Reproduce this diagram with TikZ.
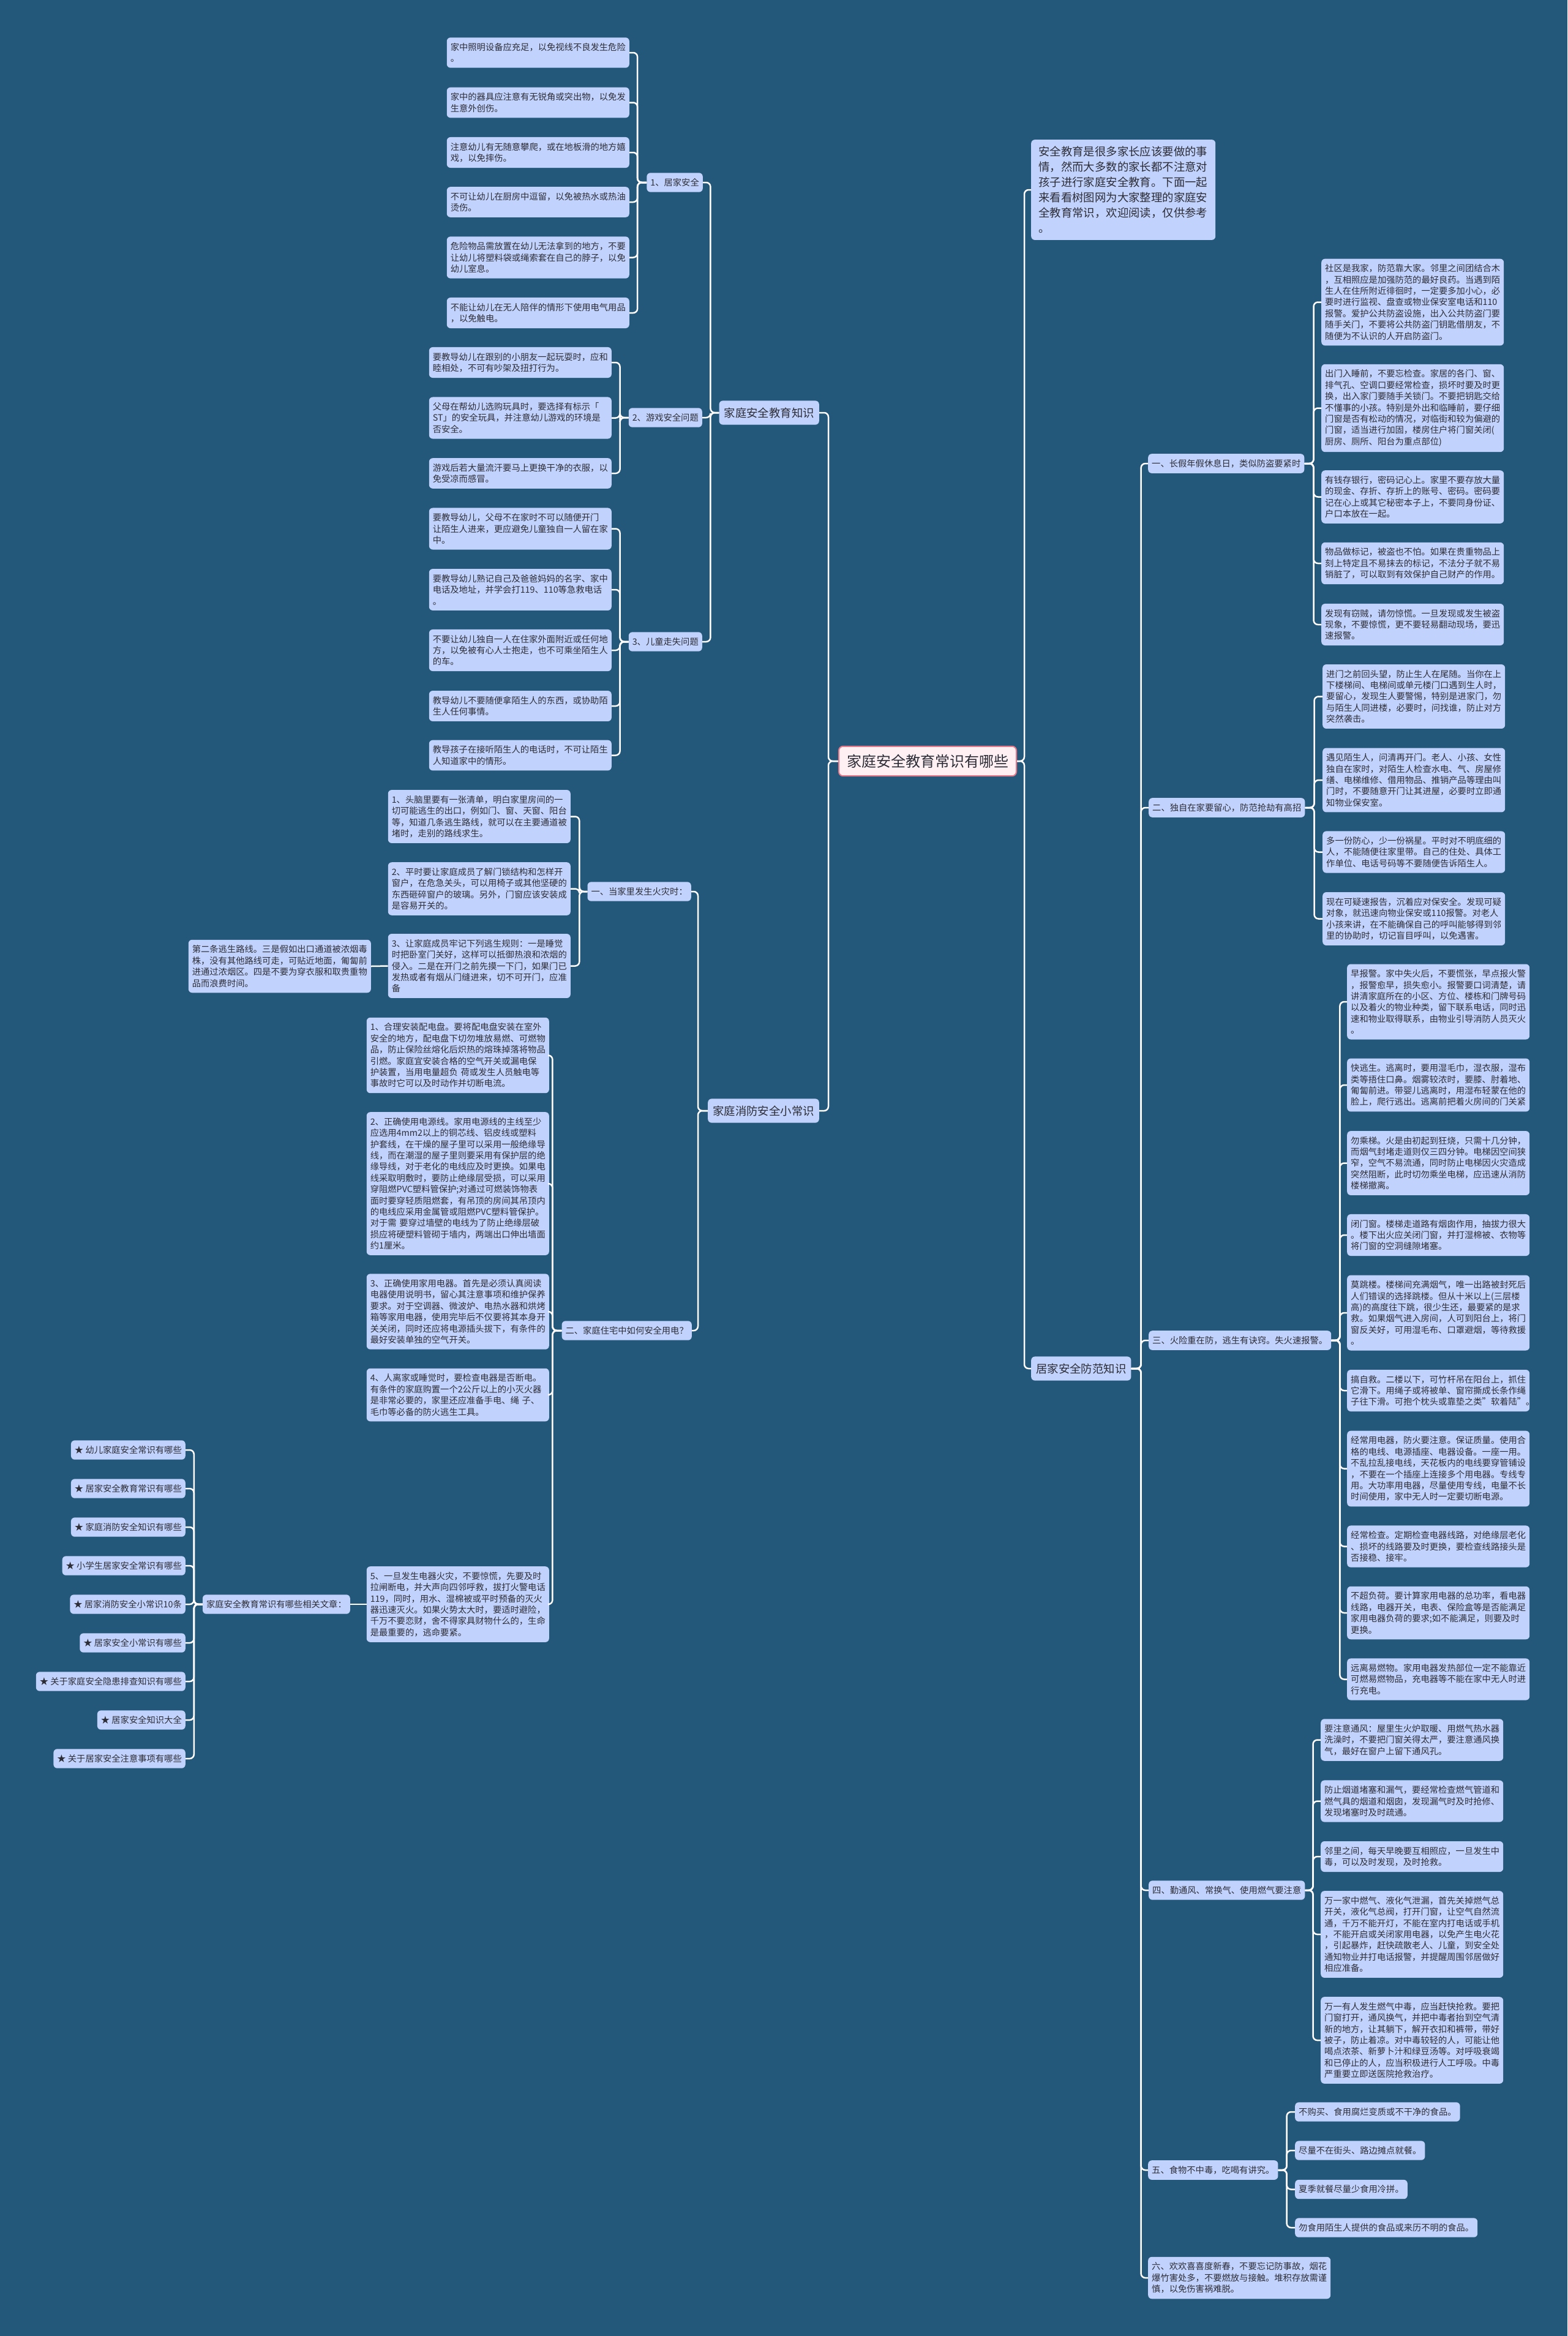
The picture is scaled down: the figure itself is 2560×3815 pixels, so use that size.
\documentclass[tikz,border=0pt]{standalone}
\usepackage{fontspec}
\setmainfont{Noto Sans CJK SC}
\definecolor{bg}{RGB}{35,88,122}
\definecolor{boxc}{RGB}{193,211,253}
\definecolor{txt}{RGB}{45,45,55}
\definecolor{rootfill}{RGB}{255,241,243}
\definecolor{rootline}{RGB}{232,120,135}
\newcommand\leaff{\fontsize{14.3pt}{18.4pt}\selectfont}
\newcommand\bigf{\fontsize{18.4pt}{25pt}\selectfont}
\newcommand\rootf{\fontsize{24pt}{30pt}\selectfont}
\tikzset{
 base/.style={rounded corners=6pt, fill=boxc, text=txt, align=left, inner xsep=6pt, inner ysep=9pt, font=\leaff},
 leaf/.style={base, text width=286pt},
 lbl/.style={base},
 lone/.style={base, font=\bigf, inner xsep=8pt, inner ysep=11pt},
 conn/.style={draw=white, line width=2.5pt, rounded corners=7pt},
}
\newcommand\rlink[3][13]{\draw[conn] (#2.east) -- ++(#1,0) |- (#3.west);}
\newcommand\llink[3][13]{\draw[conn] (#2.west) -- ++(-#1,0) |- (#3.east);}
\begin{document}
\begin{tikzpicture}[x=1pt,y=-1pt]
\fill[bg] (0,0) rectangle (2560,3815);
\useasboundingbox (0,0) rectangle (2560,3815);

% root
\node[rounded corners=7pt, fill=rootfill, draw=rootline, line width=2pt, text=txt, font=\rootf, inner xsep=13pt, inner ysep=13pt] (c) at (1515,1243) {家庭安全教育常识有哪些};

% ===== left branch 1 =====
\node[lone, anchor=east] (La) at (1338,674) {家庭安全教育知识};
\node[lbl, anchor=east] (A1) at (1148,298) {1、居家安全};
\node[lbl, anchor=east] (A2) at (1147,682) {2、游戏安全问题};
\node[lbl, anchor=east] (A3) at (1147,1048) {3、儿童走失问题};

\node[leaf, anchor=east] (a1) at (1028,86) {家中照明设备应充足，以免视线不良发生危险\\。};
\node[leaf, anchor=east] (a2) at (1028,167.5) {家中的器具应注意有无锐角或突出物，以免发\\生意外创伤。};
\node[leaf, anchor=east] (a3) at (1028,249) {注意幼儿有无随意攀爬，或在地板滑的地方嬉\\戏，以免摔伤。};
\node[leaf, anchor=east] (a4) at (1028,330) {不可让幼儿在厨房中逗留，以免被热水或热油\\烫伤。};
\node[leaf, anchor=east] (a5) at (1028,420.5) {危险物品需放置在幼儿无法拿到的地方，不要\\让幼儿将塑料袋或绳索套在自己的脖子，以免\\幼儿室息。};
\node[leaf, anchor=east] (a6) at (1028,511) {不能让幼儿在无人陪伴的情形下使用电气用品\\，以免触电。};

\node[leaf, anchor=east] (b1) at (999,592) {要教导幼儿在跟别的小朋友一起玩耍时，应和\\睦相处，不可有吵架及扭打行为。};
\node[leaf, anchor=east] (b2) at (999,682.5) {父母在帮幼儿选购玩具时，要选择有标示「\\ST」的安全玩具，并注意幼儿游戏的环境是\\否安全。};
\node[leaf, anchor=east] (b3) at (999,773) {游戏后若大量流汗要马上更换干净的衣服，以\\免受凉而感冒。};

\node[leaf, anchor=east] (d1) at (999,863.5) {要教导幼儿，父母不在家时不可以随便开门\\让陌生人进来，更应避免儿童独自一人留在家\\中。};
\node[leaf, anchor=east] (d2) at (999,963) {要教导幼儿熟记自己及爸爸妈妈的名字、家中\\电话及地址，并学会打119、110等急救电话\\。};
\node[leaf, anchor=east] (d3) at (999,1062) {不要让幼儿独自一人在住家外面附近或任何地\\方，以免被有心人士抱走，也不可乘坐陌生人\\的车。};
\node[leaf, anchor=east] (d4) at (999,1153) {教导幼儿不要随便拿陌生人的东西，或协助陌\\生人任何事情。};
\node[leaf, anchor=east] (d5) at (999,1233.5) {教导孩子在接听陌生人的电话时，不可让陌生\\人知道家中的情形。};

% ===== left branch 2 =====
\node[lone, anchor=east] (Lb) at (1338,1814) {家庭消防安全小常识};
\node[lbl, anchor=east] (B1) at (1129,1456) {一、当家里发生火灾时：};
\node[lbl, anchor=east] (B2) at (1130,2173) {二、家庭住宅中如何安全用电？};

\node[leaf, anchor=east] (f1) at (932,1333.5) {1、头脑里要有一张清单，明白家里房间的一\\切可能逃生的出口，例如门、窗、天窗、阳台\\等，知道几条逃生路线，就可以在主要通道被\\堵时，走别的路线求生。};
\node[leaf, anchor=east] (f2) at (932,1451.5) {2、平时要让家庭成员了解门锁结构和怎样开\\窗户，在危急关头，可以用椅子或其他坚硬的\\东西砸碎窗户的玻璃。另外，门窗应该安装成\\是容易开关的。};
\node[leaf, anchor=east] (f3) at (932,1577.5) {3、让家庭成员牢记下列逃生规则：一是睡觉\\时把卧室门关好，这样可以抵御热浪和浓烟的\\侵入。二是在开门之前先摸一下门，如果门已\\发热或者有烟从门缝进来，切不可开门，应准\\备};
\node[leaf, anchor=east] (f3x) at (606,1578) {第二条逃生路线。三是假如出口通道被浓烟毒\\株，没有其他路线可走，可贴近地面，匍匐前\\进通过浓烟区。四是不要为穿衣服和取贵重物\\品而浪费时间。};

\node[leaf, anchor=east] (e1) at (897,1723.5) {1、合理安装配电盘。要将配电盘安装在室外\\安全的地方，配电盘下切勿堆放易燃、可燃物\\品，防止保险丝熔化后炽热的熔珠掉落将物品\\引燃。家庭宜安装合格的空气开关或漏电保\\护装置，当用电量超负 荷或发生人员触电等\\事故时它可以及时动作并切断电流。};
\node[leaf, anchor=east] (e2) at (897,1933) {2、正确使用电源线。家用电源线的主线至少\\应选用4mm2以上的铜芯线、铝皮线或塑料\\护套线，在干燥的屋子里可以采用一般绝缘导\\线，而在潮湿的屋子里则要采用有保护层的绝\\缘导线，对于老化的电线应及时更换。如果电\\线采取明敷时，要防止绝缘层受损，可以采用\\穿阻燃PVC塑料管保护;对通过可燃装饰物表\\面时要穿轻质阻燃套，有吊顶的房间其吊顶内\\的电线应采用金属管或阻燃PVC塑料管保护。\\对于需 要穿过墙壁的电线为了防止绝缘层破\\损应将硬塑料管砌于墙内，两端出口伸出墙面\\约1厘米。};
\node[leaf, anchor=east] (e3) at (897,2142) {3、正确使用家用电器。首先是必须认真阅读\\电器使用说明书，留心其注意事项和维护保养\\要求。对于空调器、微波炉、电热水器和烘烤\\箱等家用电器，使用完毕后不仅要将其本身开\\关关闭，同时还应将电源插头拔下，有条件的\\最好安装单独的空气开关。};
\node[leaf, anchor=east] (e4) at (897,2278) {4、人离家或睡觉时，要检查电器是否断电。\\有条件的家庭购置一个2公斤以上的小灭火器\\是非常必要的，家里还应准备手电、绳 子、\\毛巾等必备的防火逃生工具。};
\node[leaf, anchor=east] (e5) at (897,2620) {5、一旦发生电器火灾，不要惊慌，先要及时\\拉闸断电，并大声向四邻呼救，拔打火警电话\\119，同时，用水、湿棉被或平时预备的灭火\\器迅速灭火。如果火势太大时，要适时避险，\\千万不要恋财，舍不得家具财物什么的，生命\\是最重要的，逃命要紧。};

\node[lbl, anchor=east] (rel) at (572,2620) {家庭安全教育常识有哪些相关文章：};
\node[lbl, anchor=east] (s1) at (303,2368) {★ 幼儿家庭安全常识有哪些};
\node[lbl, anchor=east] (s2) at (303,2431) {★ 居家安全教育常识有哪些};
\node[lbl, anchor=east] (s3) at (303,2494) {★ 家庭消防安全知识有哪些};
\node[lbl, anchor=east] (s4) at (303,2557) {★ 小学生居家安全常识有哪些};
\node[lbl, anchor=east] (s5) at (303,2620) {★ 居家消防安全小常识10条};
\node[lbl, anchor=east] (s6) at (303,2683) {★ 居家安全小常识有哪些};
\node[lbl, anchor=east] (s7) at (303,2746) {★ 关于家庭安全隐患排查知识有哪些};
\node[lbl, anchor=east] (s8) at (303,2809) {★ 居家安全知识大全};
\node[lbl, anchor=east] (s9) at (303,2872) {★ 关于居家安全注意事项有哪些};

% ===== right side =====
\node[base, anchor=west, font=\bigf, text width=277pt, inner xsep=12pt, inner ysep=11pt] (intro) at (1684,310) {安全教育是很多家长应该要做的事\\情，然而大多数的家长都不注意对\\孩子进行家庭安全教育。下面一起\\来看看树图网为大家整理的家庭安\\全教育常识，欢迎阅读，仅供参考\\。};
\node[lone, anchor=west] (R) at (1684,2235) {居家安全防范知识};

\node[lbl, anchor=west] (r1) at (1875,757) {一、长假年假休息日，类似防盗要紧时};
\node[lbl, anchor=west] (r2) at (1876,1319) {二、独自在家要留心，防范抢劫有高招};
\node[lbl, anchor=west] (r3) at (1876,2189) {三、火险重在防，逃生有诀窍。失火速报警。};
\node[lbl, anchor=west] (r4) at (1876,3087) {四、勤通风、常换气、使用燃气要注意};
\node[lbl, anchor=west] (r5) at (1875,3544) {五、食物不中毒，吃喝有讲究。};
\node[leaf, anchor=west] (r6) at (1875,3720) {六、欢欢喜喜度新春，不要忘记防事故，烟花\\爆竹害处多，不要燃放与接触。堆积存放需谨\\慎，以免伤害祸难脱。};

\node[leaf, anchor=west] (p1) at (2158,493.5) {社区是我家，防范靠大家。邻里之间团结合木\\，互相照应是加强防范的最好良药。当遇到陌\\生人在住所附近徘徊时，一定要多加小心，必\\要时进行监视、盘查或物业保安室电话和110\\报警。爱护公共防盗设施，出入公共防盗门要\\随手关门，不要将公共防盗门钥匙借朋友，不\\随便为不认识的人开启防盗门。};
\node[leaf, anchor=west] (p2) at (2158,666.5) {出门入睡前，不要忘检查。家居的各门、窗、\\排气孔、空调口要经常检查，损坏时要及时更\\换，出入家门要随手关锁门。不要把钥匙交给\\不懂事的小孩。特别是外出和临睡前，要仔细\\门窗是否有松动的情况，对临街和较为偏避的\\门窗，适当进行加固，楼房住户将门窗关闭(\\厨房、厕所、阳台为重点部位)};
\node[leaf, anchor=west] (p3) at (2158,811.5) {有钱存银行，密码记心上。家里不要存放大量\\的现金、存折、存折上的账号、密码。密码要\\记在心上或其它秘密本子上，不要同身份证、\\户口本放在一起。};
\node[leaf, anchor=west] (p4) at (2158,920) {物品做标记，被盗也不怕。如果在贵重物品上\\刻上特定且不易抹去的标记，不法分子就不易\\销脏了，可以取到有效保护自己财产的作用。};
\node[leaf, anchor=west] (p5) at (2158,1020) {发现有窃贼，请勿惊慌。一旦发现或发生被盗\\现象，不要惊慌，更不要轻易翻动现场，要迅\\速报警。};

\node[leaf, anchor=west] (q1) at (2160,1137.5) {进门之前回头望，防止生人在尾随。当你在上\\下楼梯间、电梯间或单元楼门口遇到生人时，\\要留心，发现生人要警惕，特别是进家门，勿\\与陌生人同进楼，必要时，问找谁，防止对方\\突然袭击。};
\node[leaf, anchor=west] (q2) at (2160,1274) {遇见陌生人，问清再开门。老人、小孩、女性\\独自在家时，对陌生人检查水电、气、房屋修\\缮、电梯维修、借用物品、推销产品等理由叫\\门时，不要随意开门让其进屋，必要时立即通\\知物业保安室。};
\node[leaf, anchor=west] (q3) at (2160,1391.5) {多一份防心，少一份祸星。平时对不明底细的\\人，不能随便往家里带。自己的住处、具体工\\作单位、电话号码等不要随便告诉陌生人。};
\node[leaf, anchor=west] (q4) at (2160,1500.5) {现在可疑速报告，沉着应对保安全。发现可疑\\对象，就迅速向物业保安或110报警。对老人\\小孩来讲，在不能确保自己的呼叫能够得到邻\\里的协助时，切记盲目呼叫，以免遇害。};

\node[leaf, anchor=west] (h1) at (2200,1636) {早报警。家中失火后，不要慌张，早点报火警\\，报警愈早，损失愈小。报警要口词清楚，请\\讲清家庭所在的小区、方位、楼栋和门牌号码\\以及着火的物业种类，留下联系电话，同时迅\\速和物业取得联系，由物业引导消防人员灭火\\。};
\node[leaf, anchor=west] (h2) at (2200,1772) {快逃生。逃离时，要用湿毛巾，湿衣服，湿布\\类等捂住口鼻。烟雾较浓时，要膝、肘着地、\\匍匐前进。带婴儿逃离时，用湿布轻蒙在他的\\脸上，爬行逃出。逃离前把着火房间的门关紧};
\node[leaf, anchor=west] (h3) at (2200,1899.5) {勿乘梯。火是由初起到狂烧，只需十几分钟，\\而烟气封堵走道则仅三四分钟。电梯因空间狭\\窄，空气不易流通，同时防止电梯因火灾造成\\突然阻断，此时切勿乘坐电梯，应迅速从消防\\楼梯撤离。};
\node[leaf, anchor=west] (h4) at (2200,2017) {闭门窗。楼梯走道路有烟囱作用，抽拔力很大\\。楼下出火应关闭门窗，并打湿棉被、衣物等\\将门窗的空洞缝隙堵塞。};
\node[leaf, anchor=west] (h5) at (2200,2144) {莫跳楼。楼梯间充满烟气，唯一出路被封死后\\人们错误的选择跳楼。但从十米以上(三层楼\\高)的高度往下跳，很少生还，最要紧的是求\\救。如果烟气进入房间，人可到阳台上，将门\\窗反关好，可用湿毛布、口罩避烟，等待救援\\。};
\node[leaf, anchor=west] (h6) at (2200,2271) {搞自救。二楼以下，可竹杆吊在阳台上，抓住\\它滑下。用绳子或将被单、窗帘撕成长条作绳\\子往下滑。可抱个枕头或靠垫之类"软着陆"。};
\node[leaf, anchor=west] (h7) at (2200,2398.5) {经常用电器，防火要注意。保证质量。使用合\\格的电线、电源插座、电器设备。一座一用。\\不乱拉乱接电线，天花板内的电线要穿管铺设\\，不要在一个插座上连接多个用电器。专线专\\用。大功率用电器，尽量使用专线，电量不长\\时间使用，家中无人时一定要切断电源。};
\node[leaf, anchor=west] (h8) at (2200,2525.5) {经常检查。定期检查电器线路，对绝缘层老化\\、损坏的线路要及时更换，要检查线路接头是\\否接稳、接牢。};
\node[leaf, anchor=west] (h9) at (2200,2634) {不超负荷。要计算家用电器的总功率，看电器\\线路，电器开关，电表、保险盒等是否能满足\\家用电器负荷的要求;如不能满足，则要及时\\更换。};
\node[leaf, anchor=west] (h10) at (2200,2742.5) {远离易燃物。家用电器发热部位一定不能靠近\\可燃易燃物品，充电器等不能在家中无人时进\\行充电。};

\node[leaf, anchor=west] (g1) at (2157,2841.5) {要注意通风：屋里生火炉取暖、用燃气热水器\\洗澡时，不要把门窗关得太严，要注意通风换\\气，最好在窗户上留下通风孔。};
\node[leaf, anchor=west] (g2) at (2157,2941.5) {防止烟道堵塞和漏气，要经常检查燃气管道和\\燃气具的烟道和烟囱，发现漏气时及时抢修、\\发现堵塞时及时疏通。};
\node[leaf, anchor=west] (g3) at (2157,3032) {邻里之间，每天早晚要互相照应，一旦发生中\\毒，可以及时发现，及时抢救。};
\node[leaf, anchor=west] (g4) at (2157,3159) {万一家中燃气、液化气泄漏，首先关掉燃气总\\开关，液化气总阀，打开门窗，让空气自然流\\通，千万不能开灯，不能在室内打电话或手机\\，不能开启或关闭家用电器，以免产生电火花\\，引起暴炸，赶快疏散老人、儿童，到安全处\\通知物业并打电话报警，并提醒周围邻居做好\\相应准备。};
\node[leaf, anchor=west] (g5) at (2157,3332) {万一有人发生燃气中毒，应当赶快抢救。要把\\门窗打开，通风换气，并把中毒者抬到空气清\\新的地方，让其躺下，解开衣扣和裤带，带好\\被子，防止着凉。对中毒较轻的人，可能让他\\喝点浓茶、新萝卜汁和绿豆汤等。对呼吸衰竭\\和已停止的人，应当积极进行人工呼吸。中毒\\严重要立即送医院抢救治疗。};

\node[lbl, anchor=west] (k1) at (2115,3449) {不购买、食用腐烂变质或不干净的食品。};
\node[lbl, anchor=west] (k2) at (2115,3512) {尽量不在街头、路边摊点就餐。};
\node[lbl, anchor=west] (k3) at (2115,3575.5) {夏季就餐尽量少食用冷拼。};
\node[lbl, anchor=west] (k4) at (2115,3638) {勿食用陌生人提供的食品或来历不明的食品。};

% ===== connectors =====
\llink[16]{c}{La} \llink[16]{c}{Lb}
\rlink[12]{c}{intro} \rlink[12]{c}{R}

\llink[14]{La}{A1} \llink[14]{La}{A2} \llink[14]{La}{A3}
\foreach \n in {a1,a2,a3,a4,a5,a6} {\llink[15]{A1}{\n}}
\foreach \n in {b1,b2,b3} {\llink[14]{A2}{\n}}
\foreach \n in {d1,d2,d3,d4,d5} {\llink[14]{A3}{\n}}

\llink[16]{Lb}{B1} \llink[16]{Lb}{B2}
\foreach \n in {f1,f2,f3} {\llink[13]{B1}{\n}}
\draw[conn] (f3.west) -- (f3x.east);
\foreach \n in {e1,e2,e3,e4,e5} {\llink[15]{B2}{\n}}
\draw[conn] (e5.west) -- (rel.east);
\foreach \n in {s1,s2,s3,s4,s5,s6,s7,s8,s9} {\llink[14]{rel}{\n}}

\foreach \n in {r1,r2,r3,r4,r5,r6} {\rlink[16]{R}{\n}}
\foreach \n in {p1,p2,p3,p4,p5} {\rlink[15]{r1}{\n}}
\foreach \n in {q1,q2,q3,q4} {\rlink[15]{r2}{\n}}
\foreach \n in {h1,h2,h3,h4,h5,h6,h7,h8,h9,h10} {\rlink[14]{r3}{\n}}
\foreach \n in {g1,g2,g3,g4,g5} {\rlink[13]{r4}{\n}}
\foreach \n in {k1,k2,k3,k4} {\rlink[14]{r5}{\n}}
\end{tikzpicture}
\end{document}
